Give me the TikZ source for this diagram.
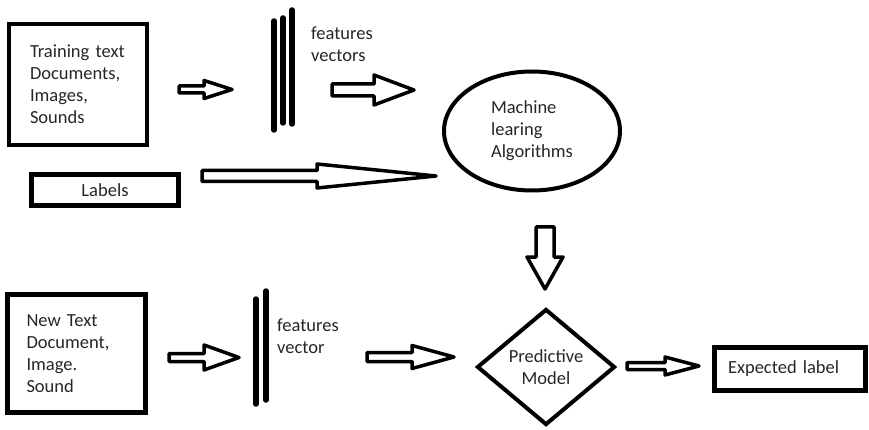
\documentclass[tikz,border=0pt]{standalone}
\usepackage{fontspec}
\setmainfont{Carlito}
\usetikzlibrary{shapes.geometric,positioning}
\definecolor{txtgray}{HTML}{262626}

\tikzset{
  txt/.style={font=\fontsize{18.5}{22}\selectfont, text=txtgray},
  inbox/.style={txt, draw, line width=4.5pt, align=left, inner sep=0pt},
  algo/.style={txt, draw, ellipse, line width=4pt, align=left, inner sep=0pt,
    minimum width=176pt, minimum height=119pt},
  model/.style={txt, draw, diamond, line width=4pt, align=center, inner sep=0pt,
    minimum width=138pt, minimum height=116pt},
  note/.style={txt, align=left, inner sep=0pt, anchor=west},
  featline/.style={line width=5.5pt, line cap=round},
  blockarr/.style={draw, line width=3.5pt, line join=round, fill=white},
}
% #1 start x, #2 tip x, #3 y, #4 shaft half width, #5 head half width, #6 head base x
\newcommand{\blockarrow}[6]{%
  \draw[blockarr] (#1,#3-#4) -- (#6,#3-#4) -- (#6,#3-#5) -- (#2,#3)
    -- (#6,#3+#5) -- (#6,#3+#4) -- (#1,#3+#4) -- cycle;}

\begin{document}
\begin{tikzpicture}[x=1pt, y=-1pt]
  \useasboundingbox (0,0) rectangle (869,430);

  % Training part
  \node[inbox, minimum width=138pt, minimum height=121pt, text width=96pt] (train) at (78,84.5)
    {Training text\\Documents,\\Images,\\Sounds};
  \node[inbox, minimum width=147pt, minimum height=31pt] (labels) at (105,190) {Labels};
  \blockarrow{179}{232}{89.5}{3.5}{9}{204}
  \draw[featline] (274,21) -- (274,130);
  \draw[featline] (283,18) -- (283,123);
  \draw[featline] (292,10) -- (292,124);
  \node[note] (featvecs) at (311,44) {features\\vectors};
  \blockarrow{332}{414}{90}{6}{15}{374}
  \blockarrow{202}{436}{176}{5.5}{12}{317}
  \node[algo] (mlalgo) at (532,131) {Machine\\learing\\Algorithms};

  % Prediction part
  \draw[blockarr] (536,227) -- (536,257) -- (527,257) -- (545,289)
    -- (563,257) -- (554,257) -- (554,227) -- cycle;
  \node[inbox, minimum width=138pt, minimum height=118pt, text width=100pt] (newdoc) at (76.5,353.5)
    {New Text\\Document,\\Image.\\Sound};
  \blockarrow{169}{239}{357.5}{4}{12.5}{204}
  \draw[featline] (256,299) -- (256,404);
  \draw[featline] (266,291) -- (266,400);
  \node[note] (featvec) at (277,336.5) {features\\vector};
  \blockarrow{367}{454}{357}{4.5}{11.5}{412}
  \node[model] (predmodel) at (546,367) {Predictive\\Model};
  \blockarrow{627}{699}{366}{3.5}{9}{665}
  \node[inbox, minimum width=151pt, minimum height=43pt, text width=124pt] (expected) at (790,369)
    {Expected label};
\end{tikzpicture}
\end{document}
